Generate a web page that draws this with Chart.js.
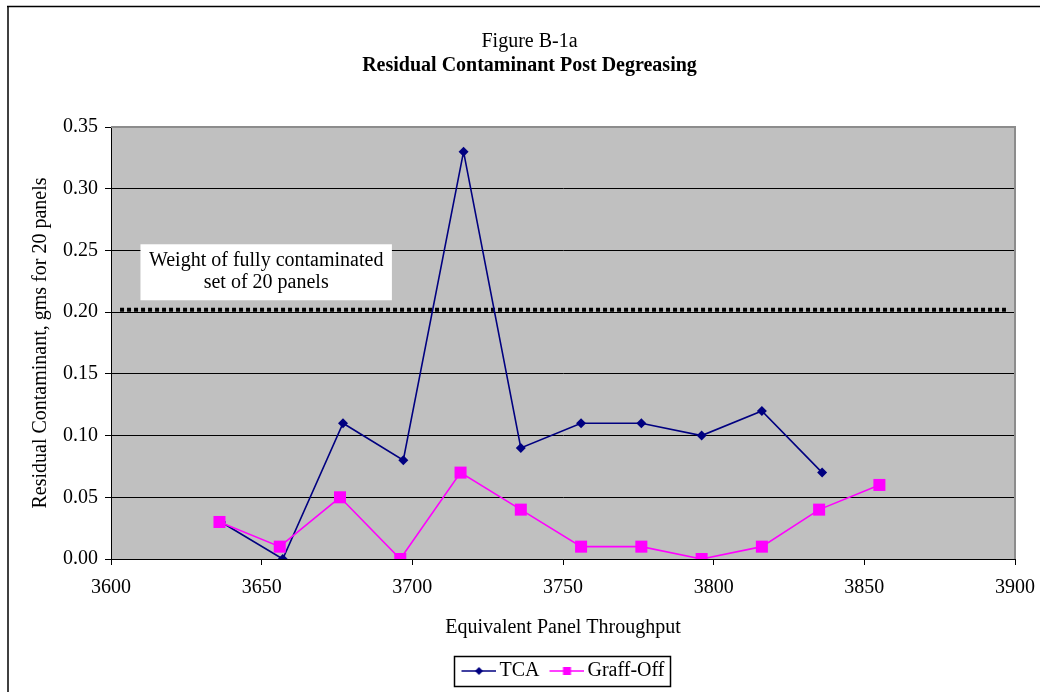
<!DOCTYPE html>
<html>
<head>
<meta charset="utf-8">
<script src="https://cdn.jsdelivr.net/npm/chart.js@4.4.1/dist/chart.umd.min.js"></script>
<style>
  html, body { margin: 0; padding: 0; background: #ffffff; }
  canvas { display: block; }
</style>
</head>
<body>
<canvas id="chart" width="1040" height="692"></canvas>
<script>
// Throughput (x) and residual contaminant (y) for each degreasing run
const tcaThroughput   = [3636.5, 3657, 3677, 3697, 3717, 3736, 3756, 3776, 3796, 3816, 3836];
const tcaResidual     = [0.03, 0.00, 0.11, 0.08, 0.33, 0.09, 0.11, 0.11, 0.10, 0.12, 0.07];
const graffThroughput = [3636, 3656, 3676, 3696, 3716, 3736, 3756, 3776, 3796, 3816, 3835, 3855];
const graffResidual   = [0.03, 0.01, 0.05, 0.00, 0.07, 0.04, 0.01, 0.01, 0.00, 0.01, 0.04, 0.06];

// Reference weight of a fully contaminated set of 20 panels
const fullSetWeight = 0.202;
const fullSetSpan   = [3603, 3897];
const fullSetLabel  = ['Weight of fully contaminated', 'set of 20 panels'];
const fullSetLabelAt = { x: 3651.5, y: 0.2323 };

const seriesNames = ['TCA', 'Graff-Off'];
const xTickValues = [3600, 3650, 3700, 3750, 3800, 3850, 3900];
const yTickValues = [0, 0.05, 0.10, 0.15, 0.20, 0.25, 0.30, 0.35];

const FONT = 'Liberation Serif';
const NAVY = '#000080';
const MAGENTA = '#ff00ff';

const toPoints = (xs, ys) => xs.map((x, i) => ({ x: x, y: ys[i] }));

// Legend swatches: a short line with the series marker in the middle
function makeSwatch(color, marker) {
  const c = document.createElement('canvas');
  c.width = 42; c.height = 14;
  const g = c.getContext('2d');
  g.strokeStyle = color; g.lineWidth = 1.5;
  g.beginPath(); g.moveTo(7, 7); g.lineTo(42, 7); g.stroke();
  g.fillStyle = color;
  g.beginPath();
  if (marker === 'diamond') {
    g.moveTo(24.5, 3); g.lineTo(28.5, 7); g.lineTo(24.5, 11); g.lineTo(20.5, 7); g.closePath();
  } else {
    g.rect(20.5, 3, 8, 8);
  }
  g.fill();
  return c;
}
const swatches = [makeSwatch(NAVY, 'diamond'), makeSwatch(MAGENTA, 'square')];

const chartDecor = {
  id: 'chartDecor',
  beforeDraw(chart) {
    const { ctx, chartArea: a } = chart;
    ctx.save();
    ctx.fillStyle = '#c0c0c0';
    ctx.fillRect(a.left, a.top, a.right - a.left, a.bottom - a.top);
    ctx.restore();
  },
  beforeDatasetsDraw(chart) {
    const { ctx, chartArea: a } = chart;
    ctx.save();
    ctx.strokeStyle = '#8c8c8c';
    ctx.lineWidth = 2;
    ctx.beginPath();
    ctx.moveTo(a.left, a.top);
    ctx.lineTo(a.right, a.top);
    ctx.lineTo(a.right, a.bottom);
    ctx.stroke();
    ctx.restore();
  },
  afterDatasetsDraw(chart) {
    const { ctx, scales } = chart;
    const cx = scales.x.getPixelForValue(fullSetLabelAt.x);
    const cy = scales.y.getPixelForValue(fullSetLabelAt.y);
    ctx.save();
    ctx.font = '20px "' + FONT + '"';
    const w = Math.max(...fullSetLabel.map(t => ctx.measureText(t).width)) + 17;
    const lineGap = 22.5;
    const h = 56;
    ctx.fillStyle = '#ffffff';
    ctx.fillRect(cx - w / 2, cy - h / 2, w, h);
    ctx.fillStyle = '#000000';
    ctx.textAlign = 'center';
    ctx.textBaseline = 'alphabetic';
    fullSetLabel.forEach((t, i) => {
      ctx.fillText(t, cx, cy - 6.5 + i * lineGap);
    });
    ctx.restore();
  },
  afterDraw(chart) {
    const { ctx } = chart;
    ctx.save();
    // outer frame
    ctx.strokeStyle = '#404040';
    ctx.lineWidth = 2;
    ctx.beginPath();
    ctx.moveTo(8, 692); ctx.lineTo(8, 6.5);
    ctx.stroke();
    ctx.strokeStyle = '#000000';
    ctx.lineWidth = 1.5;
    ctx.beginPath();
    ctx.moveTo(7, 6.5); ctx.lineTo(1040, 6.5);
    ctx.stroke();
    // legend border
    const boxes = chart.legend.legendHitBoxes;
    if (boxes && boxes.length) {
      const left = Math.min(...boxes.map(b => b.left)) - 7;
      const right = Math.max(...boxes.map(b => b.left + b.width)) + 6;
      const top = Math.min(...boxes.map(b => b.top)) - 5;
      const bottom = Math.max(...boxes.map(b => b.top + b.height)) + 5;
      ctx.strokeStyle = '#000000';
      ctx.lineWidth = 1.5;
      ctx.strokeRect(Math.round(left) + 0.5, Math.round(top) + 0.5, Math.round(right - left), Math.round(bottom - top));
    }
    ctx.restore();
  }
};

new Chart(document.getElementById('chart'), {
  type: 'scatter',
  data: {
    datasets: [
      {
        label: seriesNames[0],
        data: toPoints(tcaThroughput, tcaResidual),
        showLine: true,
        borderColor: NAVY,
        backgroundColor: NAVY,
        borderWidth: 1.6,
        pointStyle: 'rectRot',
        pointRadius: 5,
        pointBorderWidth: 0,
        order: 2
      },
      {
        label: seriesNames[1],
        data: toPoints(graffThroughput, graffResidual),
        showLine: true,
        borderColor: MAGENTA,
        backgroundColor: MAGENTA,
        borderWidth: 1.6,
        pointStyle: 'rect',
        pointRadius: 8.5,
        pointBorderWidth: 0,
        order: 1
      },
      {
        label: 'full set',
        data: fullSetSpan.map(x => ({ x: x, y: fullSetWeight })),
        showLine: true,
        borderColor: '#000000',
        borderWidth: 4,
        borderDash: [4, 3],
        borderCapStyle: 'butt',
        pointRadius: 0,
        order: 3
      }
    ]
  },
  options: {
    responsive: false,
    devicePixelRatio: 1,
    animation: false,
    layout: { padding: { left: 19, right: 0, top: 0, bottom: 1 } },
    scales: {
      x: {
        type: 'linear',
        min: 3600,
        max: 3900,
        afterBuildTicks: s => { s.ticks = xTickValues.map(v => ({ value: v })); },
        afterFit: s => { s.height = 92; },
        ticks: {
          padding: 5,
          color: '#000000',
          font: { family: FONT, size: 20, lineHeight: 1.75 },
          callback: v => String(v)
        },
        grid: { drawOnChartArea: false, drawTicks: true, tickLength: 6, color: '#000000' },
        border: { color: '#000000', width: 1 },
        title: {
          display: true,
          text: 'Equivalent Panel Throughput',
          color: '#000000',
          font: { family: FONT, size: 20 },
          padding: { top: 10, bottom: 11 }
        }
      },
      y: {
        type: 'linear',
        min: 0,
        max: 0.35,
        afterBuildTicks: s => { s.ticks = yTickValues.map(v => ({ value: v })); },
        afterFit: s => { s.width = 92; },
        ticks: {
          padding: 7,
          color: '#000000',
          font: { family: FONT, size: 20 },
          callback: v => Number(v).toFixed(2)
        },
        grid: { drawTicks: true, tickLength: 6, color: '#000000', lineWidth: 1 },
        border: { color: '#000000', width: 1 },
        title: {
          display: true,
          text: 'Residual Contaminant, gms for 20 panels',
          color: '#000000',
          font: { family: FONT, size: 20 },
          padding: { top: 10, bottom: 4 }
        }
      }
    },
    plugins: {
      title: {
        display: true,
        text: 'Figure B-1a',
        color: '#000000',
        font: { family: FONT, size: 20, weight: 'normal' },
        padding: { top: 30, bottom: 0 }
      },
      subtitle: {
        display: true,
        text: 'Residual Contaminant Post Degreasing',
        color: '#000000',
        font: { family: FONT, size: 20, weight: 'bold' },
        padding: { top: 0, bottom: 49 }
      },
      legend: {
        display: true,
        position: 'bottom',
        fullSize: false,
        maxHeight: 40,
        labels: {
          usePointStyle: true,
          pointStyleWidth: 28,
          padding: 10,
          color: '#000000',
          font: { family: FONT, size: 20 },
          filter: item => item.datasetIndex < 2,
          sort: (a, b) => a.datasetIndex - b.datasetIndex,
          generateLabels: chart => {
            const items = Chart.defaults.plugins.legend.labels.generateLabels(chart);
            items.forEach(it => { if (swatches[it.datasetIndex]) it.pointStyle = swatches[it.datasetIndex]; });
            return items;
          }
        }
      },
      tooltip: { enabled: false }
    }
  },
  plugins: [chartDecor]
});
</script>
</body>
</html>
